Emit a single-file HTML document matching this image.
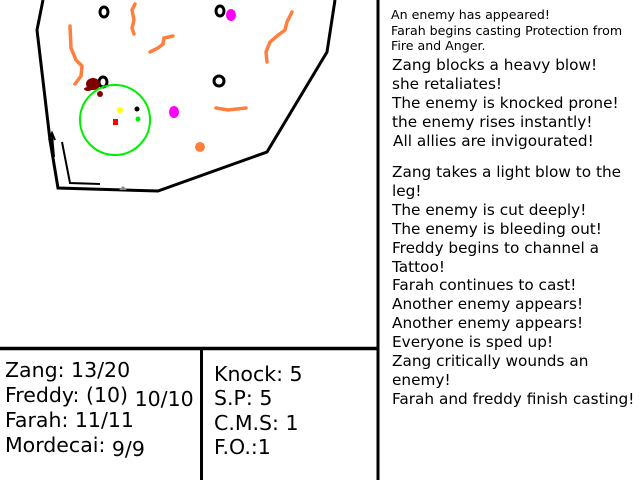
<!DOCTYPE html>
<html><head><style>
body{margin:0;width:640px;height:480px;background:#fff;position:relative;overflow:hidden;font-family:"DejaVu Sans","Liberation Sans",sans-serif;color:#000}
.t{position:absolute;white-space:nowrap;line-height:1}
.s{font-size:12.6px}
.m{font-size:15.3px}
.b{font-size:20.5px}
</style></head><body>
<svg width="640" height="480" style="position:absolute;left:0;top:0">
<g fill="none" stroke="#000" stroke-width="3">
<polyline points="43,0 37,30 50,140 58,188 158,191 267,152 327,52 335,0"/>
<polyline points="62,142 70,183 100,184" stroke-width="2"/>
<line x1="52" y1="135" x2="54" y2="157" stroke-width="2"/>
<polyline points="49,140 52,133 55,140" stroke-width="2"/>
</g>
<g fill="none" stroke="#000" stroke-width="3">
<ellipse cx="104" cy="12" rx="4" ry="5"/>
<ellipse cx="220" cy="11" rx="4" ry="5"/>
<ellipse cx="219" cy="81" rx="5" ry="5"/>
<ellipse cx="103" cy="82" rx="4" ry="5"/>
</g>
<g fill="none" stroke="#ff7f3f" stroke-width="3.5" stroke-linecap="round">
<path d="M70,26 L71,48 L76,60 L82,66 L81,76 L75,84"/>
<path d="M135,4 L132,10 L134,20 L132,28 L134,34"/>
<path d="M150,52 L158,48 L163,44 L164,38 L173,36"/>
<path d="M292,12 L287,22 L285,30 L277,36 L270,42 L266,52 L267,62"/>
<path d="M216,108 L228,110 L246,108"/>
</g>
<ellipse cx="200" cy="147" rx="5" ry="5" fill="#ff7f3f"/>
<ellipse cx="231" cy="15" rx="5" ry="6" fill="#f0f"/>
<ellipse cx="174" cy="112" rx="5" ry="6" fill="#f0f"/>
<ellipse cx="93" cy="84" rx="7" ry="6" fill="#800000"/>
<ellipse cx="100" cy="94" rx="3" ry="3" fill="#800000"/>
<ellipse cx="88" cy="89" rx="4" ry="2" fill="#800000"/>
<circle cx="115" cy="120" r="35" fill="none" stroke="#0e0" stroke-width="2"/>
<circle cx="120" cy="110" r="3" fill="#ff0"/>
<circle cx="137" cy="109" r="2.5" fill="#000"/>
<circle cx="138" cy="119" r="2.5" fill="#0e0"/>
<rect x="113" y="119" width="5" height="6" fill="#f00"/>
<polygon points="119,190 123,186 127,190" fill="#888"/>
<line x1="378" y1="0" x2="378" y2="480" stroke="#000" stroke-width="3"/>
<line x1="0" y1="348.5" x2="378" y2="348.5" stroke="#000" stroke-width="3.5"/>
<line x1="201.5" y1="348" x2="201.5" y2="480" stroke="#000" stroke-width="3"/>
</svg>
<div class="t s" style="left:391px;top:9px">An enemy has appeared!</div>
<div class="t s" style="left:391px;top:25px">Farah begins casting Protection from</div>
<div class="t s" style="left:391px;top:40px;height:13px;overflow:hidden">Fire and Anger.</div>
<div class="t m" style="left:392px;top:58px">Zang blocks a heavy blow!</div>
<div class="t m" style="left:392px;top:77px">she retaliates!</div>
<div class="t m" style="left:392px;top:96px">The enemy is knocked prone!</div>
<div class="t m" style="left:392px;top:115px">the enemy rises instantly!</div>
<div class="t m" style="left:393px;top:134px">All allies are invigourated!</div>
<div class="t m" style="left:392px;top:163px;line-height:18.9px">Zang takes a light blow to the<br>leg!<br>The enemy is cut deeply!<br>The enemy is bleeding out!<br>Freddy begins to channel a<br>Tattoo!<br>Farah continues to cast!<br>Another enemy appears!<br>Another enemy appears!<br>Everyone is sped up!<br>Zang critically wounds an<br>enemy!<br>Farah and freddy finish casting!</div>
<div class="t b" style="left:5px;top:360px">Zang: 13/20</div>
<div class="t b" style="left:5px;top:385px">Freddy: (10) <span style="position:relative;top:4px">10/10</span></div>
<div class="t b" style="left:5px;top:410px">Farah: 11/11</div>
<div class="t b" style="left:5px;top:435px">Mordecai: <span style="position:relative;top:4px">9/9</span></div>
<div class="t b" style="left:214px;top:364px">Knock: 5</div>
<div class="t b" style="left:214px;top:388px">S.P: 5</div>
<div class="t b" style="left:214px;top:413px">C.M.S: 1</div>
<div class="t b" style="left:214px;top:437px">F.O.:1</div>
</body></html>
